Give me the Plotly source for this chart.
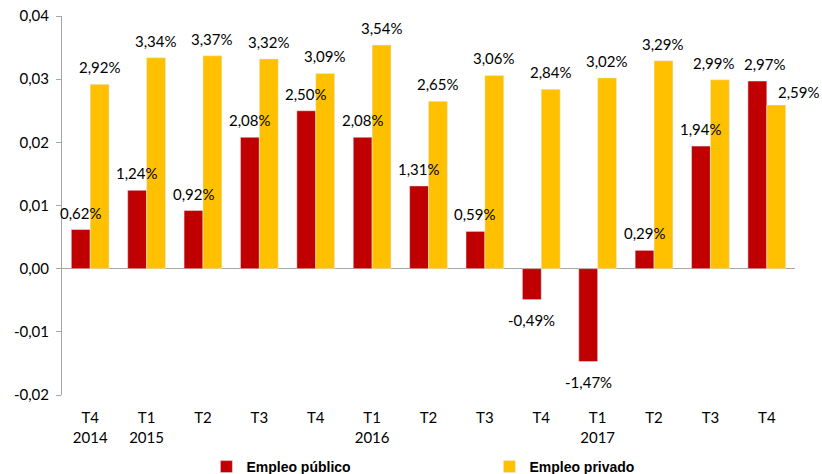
import plotly.graph_objects as go

# trimestres
trimestres = ["T4<br>2014", "T1<br>2015", "T2", "T3", "T4", "T1<br>2016", "T2", "T3",
              "T4", "T1<br>2017", "T2", "T3", "T4"]
# variación anual (%)
publico = [0.62, 1.24, 0.92, 2.08, 2.50, 2.08, 1.31, 0.59, -0.49, -1.47, 0.29, 1.94, 2.97]
privado = [2.92, 3.34, 3.37, 3.32, 3.09, 3.54, 2.65, 3.06, 2.84, 3.02, 3.29, 2.99, 2.59]

y_ticks = [-0.02, -0.01, 0.0, 0.01, 0.02, 0.03, 0.04]


def etiqueta(v):
    return f"{v:.2f}%".replace(".", ",")


def tick(v):
    return f"{v:.2f}".replace(".", ",")


x = list(range(len(trimestres)))
gap = 0.33
half = (1 - gap) / 4  # centro de cada barra dentro del grupo

fig = go.Figure()
fig.add_trace(go.Bar(x=x, y=[v / 100 for v in publico], name="Empleo público",
                     marker_color="#C00000"))
fig.add_trace(go.Bar(x=x, y=[v / 100 for v in privado], name="Empleo privado",
                     marker_color="#FFC000"))

# etiquetas de datos encima de todas las barras
anots = []
for serie, dx in ((publico, -half), (privado, half)):
    for i, v in enumerate(serie):
        a = dict(x=i + dx, y=v / 100, text=etiqueta(v), showarrow=False,
                 font=dict(family="Lato", size=15, color="black"),
                 yanchor="middle", yshift=17 if v >= 0 else -20)
        anots.append(a)
# en el original las últimas etiquetas están movidas a mano
anots[12].update(xshift=8)          # 2,97%
anots[24].update(xshift=-6)         # 2,99%
anots[25].update(xanchor="left", yshift=13)  # 2,59%

fig.update_layout(
    width=822, height=474,
    barmode="group", bargap=gap, bargroupgap=0,
    plot_bgcolor="white", paper_bgcolor="white",
    margin=dict(l=62, r=27, t=16, b=79, autoexpand=False),
    font=dict(family="Lato", size=15, color="black"),
    annotations=anots,
    legend=dict(orientation="h", x=0.197, xanchor="left", y=-0.19, yanchor="middle",
                font=dict(family="Liberation Sans", size=14, color="black", weight="bold"),
                entrywidth=238, entrywidthmode="pixels", itemwidth=30),
)
fig.update_xaxes(tickvals=x, ticktext=trimestres, showline=False, showgrid=False,
                 ticks="", range=[-0.5, len(x) - 0.5], tickfont=dict(size=15),
                 ticklabelstandoff=12)
fig.update_yaxes(range=[-0.02, 0.04], tickvals=y_ticks, ticktext=[tick(v) for v in y_ticks],
                 showgrid=False, showline=True, linecolor="#A6A6A6", linewidth=1,
                 ticks="outside", ticklen=5, tickcolor="#A6A6A6",
                 zeroline=True, zerolinecolor="#A6A6A6", zerolinewidth=1,
                 tickfont=dict(size=15), ticklabelstandoff=4)

fig.write_html("out.html", config={"displayModeBar": False},
               post_script="document.body.style.margin='0';")
